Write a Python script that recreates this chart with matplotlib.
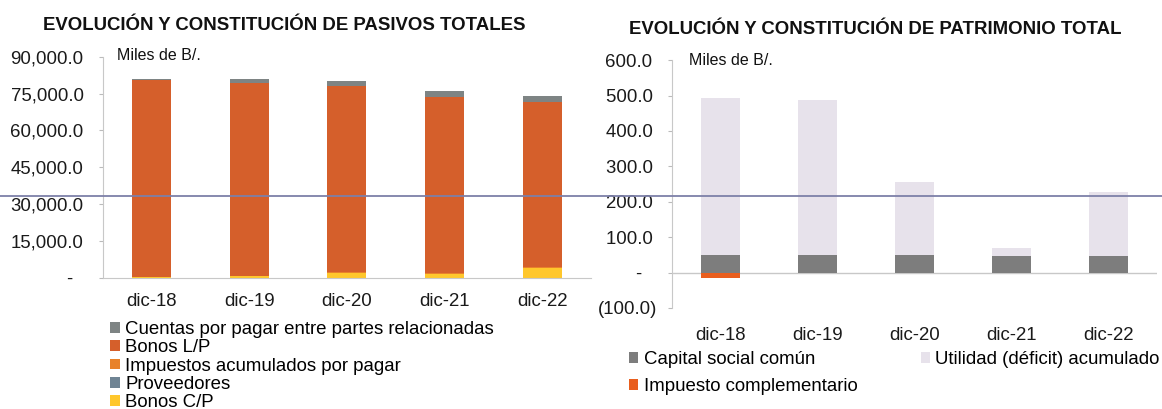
import matplotlib
matplotlib.use("Agg")
import matplotlib.pyplot as plt
from matplotlib.lines import Line2D
from matplotlib.ticker import FuncFormatter
import numpy as np

plt.rcParams['font.family'] = ['Liberation Sans', 'DejaVu Sans']

# ---------------- data ----------------
categories = ["dic-18", "dic-19", "dic-20", "dic-21", "dic-22"]

# Pasivos (Miles de B/.)
bonos_cp = [200, 500, 2000, 1500, 3800]
proveedores = [100, 100, 100, 100, 100]
impuestos_acum = [100, 200, 300, 300, 300]
bonos_lp = [80100, 78700, 75800, 71800, 67500]
cuentas_rel = [300, 1300, 2000, 2400, 2400]

# Patrimonio (Miles de B/.)
capital_social = [50, 50, 49, 48, 48]
utilidad_acum = [444, 436, 208, 20, 179]
impuesto_compl = [-15, 0, 0, 0, 0]

left_title = "EVOLUCIÓN Y CONSTITUCIÓN DE PASIVOS TOTALES"
right_title = "EVOLUCIÓN Y CONSTITUCIÓN DE PATRIMONIO TOTAL"
units = "Miles de B/."

c_cuentas = "#7E8484"
c_lp = "#D55F2B"
c_imp = "#E8822A"
c_prov = "#6F8494"
c_cp = "#FFC72C"
c_cap = "#7D7D7D"
c_util = "#E7E2EB"
c_impc = "#E95E1E"

FS = 13.4

fig = plt.figure(figsize=(11.62, 4.09), dpi=100)
x = np.arange(len(categories))
w = 0.4

# ---------------- left chart ----------------
ax1 = fig.add_axes([0.0886, 0.321, 0.42, 0.540])
series_left = [
    ("Bonos C/P", bonos_cp, c_cp),
    ("Proveedores", proveedores, c_prov),
    ("Impuestos acumulados por pagar", impuestos_acum, c_imp),
    ("Bonos L/P", bonos_lp, c_lp),
    ("Cuentas por pagar entre partes relacionadas", cuentas_rel, c_cuentas),
]
bottom = np.zeros(len(categories))
handles = []
for name, vals, col in series_left:
    b = ax1.bar(x, vals, w, bottom=bottom, color=col, label=name, zorder=2)
    bottom += np.array(vals)
    handles.append(b)
ax1.set_xlim(-0.5, 4.5)
ax1.set_ylim(0, 90000)
ax1.set_yticks(np.arange(0, 90001, 15000))


def fmt_left(v, pos):
    if abs(v) < 1e-9:
        return "-  "
    return f"{v:,.1f}"


ax1.yaxis.set_major_formatter(FuncFormatter(fmt_left))
ax1.set_xticks(x)
ax1.set_xticklabels(categories)
ax1.tick_params(axis='both', labelsize=FS, colors="#1A1A1A")
ax1.tick_params(axis='y', length=3, color="#BBBBBB", pad=11)
ax1.tick_params(axis='x', length=0, pad=11)
for s in ["top", "right"]:
    ax1.spines[s].set_visible(False)
ax1.spines["left"].set_color("#C8C8C8")
ax1.spines["bottom"].set_color("#C8C8C8")
ax1.text(0.029, 1.005, units, transform=ax1.transAxes, fontsize=11.5,
         va="center", ha="left", color="#111111")
fig.text(0.245, 0.937, left_title, fontsize=13.4, fontweight="bold",
         ha="center", va="center", color="#111111")
leg1 = fig.legend(handles=handles[::-1], loc="upper left",
                  bbox_to_anchor=(0.095, 0.215), fontsize=FS, frameon=False,
                  handlelength=0.5, handleheight=0.5, handletextpad=0.3,
                  labelspacing=0.07, borderpad=0, borderaxespad=0)

# ---------------- right chart ----------------
ax2 = fig.add_axes([0.578, 0.247, 0.418, 0.606])
b_cap = ax2.bar(x, capital_social, w, color=c_cap, label="Capital social común", zorder=2)
b_util = ax2.bar(x, utilidad_acum, w, bottom=capital_social, color=c_util,
                 label="Utilidad (déficit) acumulado", zorder=2)
b_impc = ax2.bar(x, impuesto_compl, w, color=c_impc,
                 label="Impuesto complementario", zorder=2)
ax2.set_xlim(-0.5, 4.5)
ax2.set_ylim(-100, 600)
ax2.set_yticks(np.arange(-100, 601, 100))


def fmt_right(v, pos):
    if abs(v) < 1e-9:
        return "-   "
    if v < 0:
        return f"({abs(v):,.1f})"
    return f"{v:,.1f} "


ax2.yaxis.set_major_formatter(FuncFormatter(fmt_right))
ax2.axhline(0, color="#C8C8C8", lw=1, zorder=1)
ax2.set_xticks(x)
ax2.set_xticklabels(categories)
ax2.tick_params(axis='both', labelsize=FS, colors="#1A1A1A")
ax2.tick_params(axis='y', length=3, color="#BBBBBB", pad=7)
ax2.tick_params(axis='x', length=0, pad=14)
for s in ["top", "right", "bottom"]:
    ax2.spines[s].set_visible(False)
ax2.spines["left"].set_color("#C8C8C8")
ax2.text(0.035, 1.0, units, transform=ax2.transAxes, fontsize=11.5,
         va="center", ha="left", color="#111111")
fig.text(0.753, 0.929, right_title, fontsize=13.4, fontweight="bold",
         ha="center", va="center", color="#111111")
leg2 = fig.legend(handles=[b_cap, b_impc, b_util],
                  labels=["Capital social común", "Impuesto complementario",
                          "Utilidad (déficit) acumulado"],
                  loc="upper left", bbox_to_anchor=(0.541, 0.142), ncol=2,
                  fontsize=FS, frameon=False, handlelength=0.5, handleheight=0.5,
                  handletextpad=0.3, labelspacing=0.55, columnspacing=3.4,
                  borderpad=0, borderaxespad=0)

# scan line artifact across the page
fig.add_artist(Line2D([0, 1], [1 - 196 / 409, 1 - 196 / 409],
                      transform=fig.transFigure, color="#7D80A8", lw=1.3, zorder=10))

fig.savefig("out.png", dpi=100)
